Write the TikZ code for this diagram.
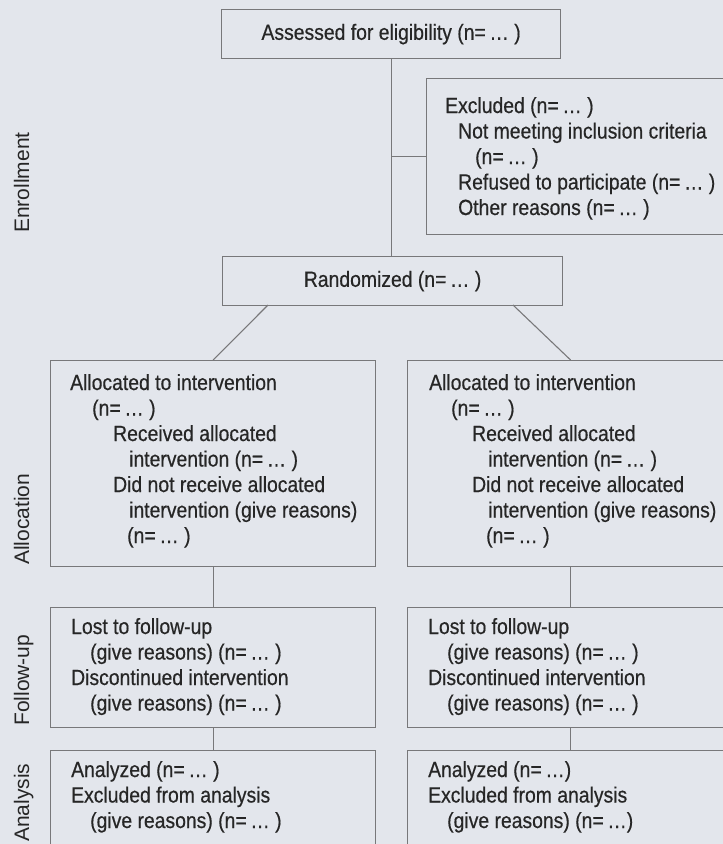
\documentclass[tikz,border=0pt]{standalone}
\usepackage{fontspec}
\setmainfont{Liberation Sans}[FakeStretch=0.88,FakeBold=0.5]
\newfontfamily\labfont{Liberation Sans}
\definecolor{paper}{RGB}{227,230,236}
\definecolor{ink}{RGB}{38,38,38}
\definecolor{rule}{RGB}{120,120,122}
\newcommand{\nn}{(n=\,…\ )}
\begin{document}
\begin{tikzpicture}[x=1pt,y=-1pt,
  box/.style={draw=rule, line width=1.2pt, rectangle, inner sep=0pt},
  link/.style={draw=rule, line width=1.1pt},
  txt/.style={text=ink, inner sep=0pt, anchor=base west, align=left,
    font=\fontsize{22}{25.5}\selectfont},
  ctxt/.style={text=ink, font=\fontsize{22}{25.5}\selectfont},
  lab/.style={text=ink, inner sep=0pt, rotate=90, font=\labfont\fontsize{21}{24}\selectfont}]
\fill[paper] (0,0) rectangle (723,844);
\useasboundingbox (0,0) rectangle (723,844);
\clip (0,0) rectangle (723,844);

% stage labels, rotated, each ending at the foot of its stage
\node[lab, anchor=base west] (labEnr) at (29,233) {Enrollment};
\node[lab, anchor=base west] (labAll) at (29,565) {Allocation};
\node[lab, anchor=base west] (labFol) at (29,726) {Follow-up};
\node[lab, anchor=base west] (labAna) at (29,842) {Analysis};

% enrollment
\node[box, ctxt, minimum width=339pt, minimum height=49pt, anchor=north west]
  (assess) at (221,9) {Assessed for eligibility \nn};
\node[box, minimum width=320pt, minimum height=156pt, anchor=north west]
  (excl) at (426,78) {};
\node[txt] (exclt) at (445,113) {\begin{tabular}[t]{@{}l@{}}
  Excluded \nn\\
  \hspace*{13pt}Not meeting inclusion criteria\\
  \hspace*{30pt}\nn\\
  \hspace*{13pt}Refused to participate \nn\\
  \hspace*{13pt}Other reasons \nn\end{tabular}};
\node[box, ctxt, minimum width=340pt, minimum height=49pt, anchor=north west]
  (rand) at (222,256) {Randomized \nn};

% allocation
\node[box, minimum width=325pt, minimum height=206pt, anchor=north west]
  (allocL) at (50,360) {};
\node[box, minimum width=326pt, minimum height=206pt, anchor=north west]
  (allocR) at (407,360) {};
\node[txt] (allocLt) at (70,390) {\begin{tabular}[t]{@{}l@{}}
  Allocated to intervention\\
  \hspace*{22pt}\nn\\
  \hspace*{43pt}Received allocated\\
  \hspace*{59pt}intervention \nn\\
  \hspace*{43pt}Did not receive allocated\\
  \hspace*{59pt}intervention (give reasons)\\
  \hspace*{57pt}\nn\end{tabular}};
\node[txt] (allocRt) at (429,390) {\begin{tabular}[t]{@{}l@{}}
  Allocated to intervention\\
  \hspace*{22pt}\nn\\
  \hspace*{43pt}Received allocated\\
  \hspace*{59pt}intervention \nn\\
  \hspace*{43pt}Did not receive allocated\\
  \hspace*{59pt}intervention (give reasons)\\
  \hspace*{57pt}\nn\end{tabular}};

% follow-up
\node[box, minimum width=325pt, minimum height=120pt, anchor=north west]
  (fuL) at (50,607) {};
\node[box, minimum width=326pt, minimum height=120pt, anchor=north west]
  (fuR) at (407,607) {};
\node[txt] (fuLt) at (71,634) {\begin{tabular}[t]{@{}l@{}}
  Lost to follow-up\\
  \hspace*{19pt}(give reasons) \nn\\
  Discontinued intervention\\
  \hspace*{19pt}(give reasons) \nn\end{tabular}};
\node[txt] (fuRt) at (428,634) {\begin{tabular}[t]{@{}l@{}}
  Lost to follow-up\\
  \hspace*{19pt}(give reasons) \nn\\
  Discontinued intervention\\
  \hspace*{19pt}(give reasons) \nn\end{tabular}};

% analysis
\node[box, minimum width=325pt, minimum height=130pt, anchor=north west]
  (anL) at (50,750) {};
\node[box, minimum width=326pt, minimum height=130pt, anchor=north west]
  (anR) at (407,750) {};
\node[txt] (anLt) at (71,777) {\begin{tabular}[t]{@{}l@{}}
  Analyzed \nn\\
  Excluded from analysis\\
  \hspace*{19pt}(give reasons) \nn\end{tabular}};
\node[txt] (anRt) at (428,777) {\begin{tabular}[t]{@{}l@{}}
  Analyzed (n=\,…)\\
  Excluded from analysis\\
  \hspace*{19pt}(give reasons) (n=\,…)\end{tabular}};

% connectors
\coordinate (split) at (assess.south |- excl.west);
\coordinate (dL) at (268,305);
\coordinate (dR) at (513,305);
\draw[link] (assess.south) -- (assess.south |- rand.north);
\draw[link] (split) -- (excl.west);
\draw[link] (dL) -- (allocL.north);
\draw[link] (dR) -- (allocR.north);
\draw[link] (allocL.south) -- (fuL.north);
\draw[link] (allocR.south) -- (fuR.north);
\draw[link] (fuL.south) -- (anL.north);
\draw[link] (fuR.south) -- (anR.north);
\end{tikzpicture}
\end{document}
